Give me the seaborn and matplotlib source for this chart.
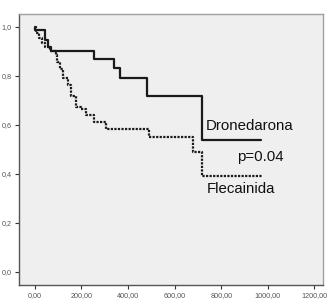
import numpy as np
import pandas as pd
import matplotlib
matplotlib.use("Agg")
import matplotlib.pyplot as plt
import seaborn as sns

# ── data ─────────────────────────────────────────────────────────
drone_t = [0, 3, 46, 57, 71, 256, 338, 366, 480, 716, 970]
drone_s = [1.0, 0.988, 0.945, 0.920, 0.902, 0.868, 0.831, 0.790, 0.717, 0.538, 0.538]

fleca_t = [0, 5, 17, 30, 45, 64, 90, 95, 107, 121, 142, 157, 175, 200,
           221, 256, 306, 491, 677, 716, 975]
fleca_s = [1.0, 0.975, 0.955, 0.935, 0.920, 0.902, 0.886, 0.858, 0.830,
           0.790, 0.763, 0.720, 0.674, 0.667, 0.640, 0.612, 0.585, 0.549,
           0.491, 0.392, 0.392]

x_ticks = [0, 200, 400, 600, 800, 1000, 1200]
y_ticks = [0.0, 0.2, 0.4, 0.6, 0.8, 1.0]

drone = pd.DataFrame({"t": drone_t, "s": drone_s})
fleca = pd.DataFrame({"t": fleca_t, "s": fleca_s})

sns.set_style("white")
plt.rcParams["font.family"] = ["Liberation Sans", "DejaVu Sans"]

fig = plt.figure(figsize=(3.32, 3.04), dpi=100)
ax = fig.add_axes([0.057, 0.0625, 0.916, 0.8915])
ax.set_facecolor("#efefef")

sns.lineplot(data=drone, x="t", y="s", estimator=None, sort=False,
             drawstyle="steps-post", color="#1a1a1a", lw=1.6, ax=ax)
sns.lineplot(data=fleca, x="t", y="s", estimator=None, sort=False,
             drawstyle="steps-post", color="#1a1a1a", lw=1.6,
             linestyle=(0, (1, 0.6)), ax=ax)

ax.set_xlim(-68, 1237)
ax.set_ylim(-0.0535, 1.053)
ax.set_xticks(x_ticks)
ax.set_xticklabels([f"{v:.2f}".replace(".", ",") for v in x_ticks])
ax.set_yticks(y_ticks)
ax.set_yticklabels([f"{v:.1f}".replace(".", ",") for v in y_ticks])
ax.tick_params(axis="both", labelsize=5.2, labelcolor="#555555",
               length=3, width=0.8, color="#333333", pad=2,
               bottom=True, left=True)
ax.set_xlabel("")
ax.set_ylabel("")

for side in ["left", "bottom"]:
    ax.spines[side].set_color("#555555")
    ax.spines[side].set_linewidth(1.0)
for side in ["top", "right"]:
    ax.spines[side].set_color("#a0a0a0")
    ax.spines[side].set_linewidth(1.0)

txt = dict(fontsize=10.8, color="#111111", va="center", ha="left")
ax.text(733, 0.597, "Dronedarona", **txt)
ax.text(867, 0.469, "p=0.04", **txt)
ax.text(739, 0.337, "Flecainida", **txt)

fig.savefig("out.png", dpi=100, facecolor="white")
